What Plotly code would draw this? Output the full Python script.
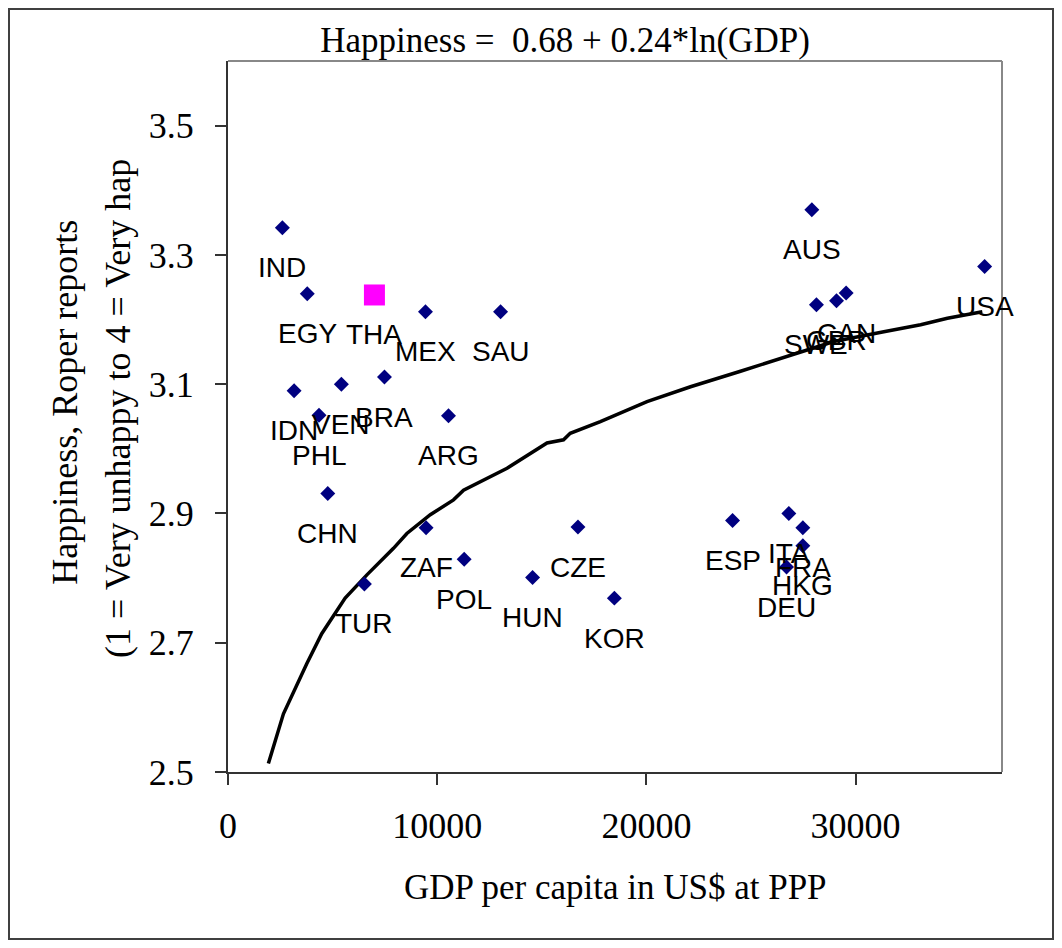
import plotly.graph_objects as go

# ---- data ----
countries = ["IND", "EGY", "MEX", "SAU", "IDN", "VEN", "BRA", "PHL", "ARG", "CHN",
             "ZAF", "POL", "TUR", "HUN", "CZE", "KOR", "ESP", "ITA", "FRA", "HKG",
             "DEU", "AUS", "USA", "SWE", "GBR", "CAN"]
gdp = [2600, 3790, 9440, 13030, 3160, 5420, 7480, 4350, 10540, 4770,
       9470, 11290, 6520, 14560, 16730, 18470, 24120, 26810, 27480, 27480,
       26700, 27910, 36170, 28130, 29090, 29550]
happiness = [3.342, 3.240, 3.212, 3.212, 3.090, 3.100, 3.111, 3.052, 3.051, 2.931,
             2.878, 2.829, 2.791, 2.801, 2.879, 2.769, 2.889, 2.900, 2.878, 2.850,
             2.817, 3.370, 3.282, 3.223, 3.229, 3.241]

highlight_country = ["THA"]
highlight_gdp = [7000]
highlight_happiness = [3.238]

fit_gdp = [1930, 2650, 3770, 4480, 5600, 6640, 7910, 8550, 9670, 10780, 11260,
           13010, 13340, 15250, 16040, 16360, 17800, 20030, 22110, 24500, 26730,
           28960, 31350, 33110, 34390, 36060]
fit_happiness = [2.513, 2.590, 2.668, 2.714, 2.769, 2.805, 2.846, 2.869, 2.898, 2.921,
                 2.936, 2.965, 2.970, 3.009, 3.014, 3.024, 3.042, 3.073, 3.096, 3.120,
                 3.143, 3.166, 3.181, 3.192, 3.202, 3.212]

title_text = "Happiness =  0.68 + 0.24*ln(GDP)"
x_title = "GDP per capita in US$ at PPP"
y_title_1 = "Happiness, Roper reports"
y_title_2 = "(1 = Very unhappy to 4 = Very hap"
x_ticks = [0, 10000, 20000, 30000]
y_ticks = [2.5, 2.7, 2.9, 3.1, 3.3, 3.5]

SERIF = "Liberation Serif"
SANS = "Liberation Sans"

W, H = 1046, 932
L, R, T, B = 220, 52, 53, 168
PW, PH = W - L - R, H - T - B

fig = go.Figure()

fig.add_trace(go.Scatter(
    x=fit_gdp, y=fit_happiness, mode="lines",
    line=dict(color="black", width=3.5), hoverinfo="skip", showlegend=False))

fig.add_trace(go.Scatter(
    x=gdp, y=happiness, mode="markers", text=countries,
    marker=dict(symbol="diamond", size=11.5, color="#000080"),
    showlegend=False))

fig.add_trace(go.Scatter(
    x=highlight_gdp, y=highlight_happiness, mode="markers", text=highlight_country,
    marker=dict(symbol="square", size=21, color="#FF00FF"),
    showlegend=False))

annotations = []
for c, xv, yv in zip(countries + highlight_country, gdp + highlight_gdp,
                     happiness + highlight_happiness):
    annotations.append(dict(x=xv, y=yv, xref="x", yref="y", text=c, showarrow=False,
                            yshift=-40, xanchor="center", yanchor="middle",
                            font=dict(family=SANS, size=28, color="black")))

# Axis titles
annotations.append(dict(x=0.5, y=-0.163, xref="paper", yref="paper", text=x_title,
                        showarrow=False, xanchor="center", yanchor="middle",
                        font=dict(family=SERIF, size=35, color="black")))
annotations.append(dict(x=-0.210, y=0.52, xref="paper", yref="paper", text=y_title_1,
                        showarrow=False, textangle=-90, xanchor="center", yanchor="middle",
                        font=dict(family=SERIF, size=36, color="black")))
annotations.append(dict(x=-0.143, y=0.511, xref="paper", yref="paper", text=y_title_2,
                        showarrow=False, textangle=-90, xanchor="center", yanchor="middle",
                        font=dict(family=SERIF, size=36, color="black")))

def px_x(p):
    return (p - L) / PW

def px_y(p):
    return (H - B - p) / PH

shapes = [
    # outer chart border
    dict(type="rect", xref="paper", yref="paper", x0=px_x(1), x1=px_x(W - 1),
         y0=px_y(H - 1), y1=px_y(1), line=dict(color="#404040", width=2)),
    # top and right plot frame (gray)
    dict(type="line", xref="paper", yref="paper", x0=0, x1=1, y0=1, y1=1,
         line=dict(color="#888888", width=2)),
    dict(type="line", xref="paper", yref="paper", x0=1, x1=1, y0=0, y1=1,
         line=dict(color="#888888", width=2)),
]

fig.update_layout(
    width=W, height=H,
    margin=dict(l=L, r=R, t=T, b=B),
    paper_bgcolor="white", plot_bgcolor="white",
    showlegend=False,
    title=dict(text=title_text, x=557 / W, xanchor="center",
               y=1 - 32 / H, yanchor="middle",
               font=dict(family=SERIF, size=35, color="black")),
    xaxis=dict(range=[0, 37000], tickvals=x_ticks, ticktext=[str(v) for v in x_ticks],
               showgrid=False, zeroline=False, showline=True, linecolor="#333333",
               linewidth=2, ticks="outside", ticklen=11, tickcolor="#333333",
               tickwidth=1.5, ticklabelstandoff=10,
               tickfont=dict(family=SERIF, size=36, color="black")),
    yaxis=dict(range=[2.5, 3.6], tickvals=y_ticks, ticktext=[f"{v:.1f}" for v in y_ticks],
               showgrid=False, zeroline=False, showline=True, linecolor="#333333",
               linewidth=2, ticks="outside", ticklen=11, tickcolor="#333333",
               tickwidth=1.5, ticklabelstandoff=14,
               tickfont=dict(family=SERIF, size=36, color="black")),
    annotations=annotations,
    shapes=shapes,
)

fig.write_html("out.html")
